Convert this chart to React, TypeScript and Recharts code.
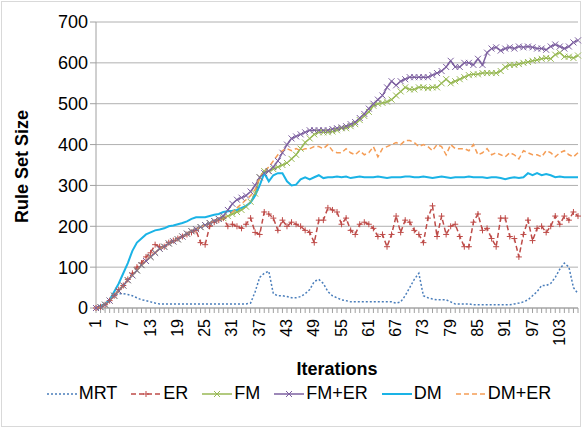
import React from 'react';
import { LineChart, Line, XAxis, YAxis, CartesianGrid, Legend } from 'recharts';

const ramp = [0,2,8,18,30,42,55,68,80,92,105,115,125,135,145,150,158,163,168,175,182,188,193,198,203,208,213,218];

const MRT = [0,5,10,20,30,35,35,33,30,25,20,18,15,12,10,10,10,10,10,10,10,10,10,10,10,10,10,10,10,10,10,10,10,10,12,40,75,85,90,35,30,30,28,25,25,28,35,45,65,70,60,40,30,25,20,18,15,15,15,15,15,15,15,15,15,15,12,15,30,50,70,85,30,25,22,20,20,20,15,10,10,10,10,8,8,8,8,8,8,8,8,8,10,12,15,20,30,40,55,55,60,75,95,110,100,50,35];
const ER = [0,3,8,18,30,45,55,70,85,100,110,125,135,155,150,150,160,165,170,175,180,185,190,160,155,200,210,215,220,200,205,200,195,205,220,185,180,235,230,220,190,215,200,210,205,200,190,185,160,215,215,245,240,235,205,220,190,180,205,210,205,195,175,180,150,180,225,185,215,210,190,180,160,220,250,175,225,180,200,205,175,150,150,210,230,190,195,170,150,220,220,175,170,125,180,215,165,195,200,185,200,225,205,225,215,235,225];
const FM = [...ramp,220,225,230,235,240,248,260,280,320,335,335,340,345,350,355,365,375,390,405,415,425,430,430,430,432,435,440,440,445,450,460,470,480,495,500,502,505,510,520,530,540,535,535,540,540,538,540,540,550,560,550,555,560,565,570,572,572,575,575,575,575,580,590,595,595,597,600,602,605,607,610,612,610,620,625,615,615,612,618];
const FMER = [...ramp,225,240,255,265,270,275,285,300,320,330,335,345,360,380,400,415,420,425,430,435,435,435,435,435,438,440,442,445,450,455,465,475,488,500,510,520,540,555,545,555,560,565,565,565,565,565,570,575,580,590,605,590,590,600,600,595,610,595,625,635,638,630,635,638,635,640,638,640,638,635,635,632,640,645,640,635,640,650,655];
const DM = [0,5,10,20,40,60,85,110,140,160,170,180,185,190,192,195,200,202,205,208,212,218,222,222,222,225,228,230,235,237,238,240,245,250,258,275,300,330,310,325,330,330,310,300,302,315,320,315,320,325,318,320,320,322,320,322,318,320,322,320,320,320,322,320,318,320,320,320,322,322,320,320,322,320,318,320,322,320,318,320,320,320,322,320,320,320,318,320,320,318,315,318,320,318,320,330,325,330,325,328,325,320,322,320,320,320,320];
const DMER = [...ramp,220,225,235,245,255,265,275,290,320,335,345,360,375,385,390,385,390,385,390,390,395,395,390,400,385,380,380,390,380,375,385,375,380,395,370,390,395,400,405,400,410,410,405,395,400,395,385,400,395,375,400,390,390,390,385,400,375,380,390,375,380,375,370,380,375,365,385,380,375,375,370,385,380,370,380,385,375,370,380];

const N = 107;
const data = Array.from({ length: N }, (_, i) => ({
  it: String(i + 1),
  MRT: MRT[i], ER: ER[i], FM: FM[i], 'FM+ER': FMER[i], DM: DM[i], 'DM+ER': DMER[i],
}));
const yTicks = [0, 100, 200, 300, 400, 500, 600, 700];

const font = 'Liberation Sans, Arial, sans-serif';

const series = [
  { key: 'MRT', color: '#4a7ebb', dash: '2 2', marker: '', width: 1.5 },
  { key: 'ER', color: '#be4b48', dash: '5 3', marker: 'plus', width: 1.5 },
  { key: 'FM', color: '#98b954', dash: '', marker: 'x', width: 1.5 },
  { key: 'FM+ER', color: '#7d60a0', dash: '', marker: 'x', width: 1.5 },
  { key: 'DM', color: '#1ab3e6', dash: '', marker: '', width: 2 },
  { key: 'DM+ER', color: '#f59d56', dash: '5 3', marker: '', width: 1.5 },
];

const XTick = (p: any) => {
  const { x, y, payload } = p;
  const v = Number(payload.value);
  if ((v - 1) % 6 !== 0) return null;
  return (
    <text x={x} y={y + 4} transform={`rotate(-90 ${x} ${y + 4})`} textAnchor="end" dy={5} fontSize={16} fill="#000" fontFamily={font}>
      {payload.value}
    </text>
  );
};

const markPath = (m: string, cx: number, cy: number) =>
  m === 'plus' ? `M${cx - 3},${cy}H${cx + 3}M${cx},${cy - 3}V${cy + 3}` :
  `M${cx - 3},${cy - 3}L${cx + 3},${cy + 3}M${cx - 3},${cy + 3}L${cx + 3},${cy - 3}`;

const Dot = (color: string, m: string) => (p: any) => {
  const { cx, cy } = p;
  if (cx == null || cy == null) return null;
  return <path d={markPath(m, cx, cy)} stroke={color} strokeWidth={1} key={p.index} />;
};

const LegendContent = () => (
  <div style={{ display: 'flex', justifyContent: 'center', gap: 14, fontFamily: font, fontSize: 18, color: '#000', paddingLeft: 10 }}>
    {series.map(s => (
      <span key={s.key} style={{ display: 'flex', alignItems: 'center', gap: 2 }}>
        <svg width={30} height={12}>
          <line x1={0} y1={6} x2={30} y2={6} stroke={s.color} strokeWidth={s.width} strokeDasharray={s.dash || undefined} />
          {s.marker && <path d={markPath(s.marker, 15, 6)} stroke={s.color} strokeWidth={1} />}
        </svg>
        {s.key}
      </span>
    ))}
  </div>
);

export default function App() {
  return (
    <div style={{ position: 'fixed', left: 0, top: 0, width: 583, height: 428, background: '#fff' }}>
      <div style={{ position: 'absolute', left: 1, top: 1, width: 578, height: 424, border: '1px solid #d9d9d9' }} />
      <LineChart width={583} height={428} data={data} margin={{ top: 22, right: 5, left: 10, bottom: 0 }} style={{ fontFamily: font }}>
        <CartesianGrid vertical={false} stroke="#b0b0b0" />
        <XAxis dataKey="it" interval={0} tick={<XTick />} tickLine={{ stroke: '#a0a0a0' }} tickSize={5} axisLine={{ stroke: '#a0a0a0' }} height={75}
          label={{ value: 'Iterations', position: 'insideBottom', offset: 8, fontSize: 18, fontWeight: 'bold', fill: '#000' }} />
        <YAxis domain={[0, 700]} ticks={yTicks} width={86} tick={{ fontSize: 18, fill: '#000' }} tickLine={{ stroke: '#a0a0a0' }} axisLine={{ stroke: '#a0a0a0' }}
          label={{ value: 'Rule Set Size', angle: -90, position: 'insideLeft', offset: 12, dy: 58, fontSize: 18, fontWeight: 'bold', fill: '#000' }} />
        <Legend verticalAlign="bottom" height={45} content={<LegendContent />} />
        {series.map(s => (
          <Line key={s.key} dataKey={s.key} stroke={s.color} strokeDasharray={s.dash || undefined} strokeWidth={s.width}
            dot={s.marker ? Dot(s.color, s.marker) : false} isAnimationActive={false} />
        ))}
      </LineChart>
    </div>
  );
}
